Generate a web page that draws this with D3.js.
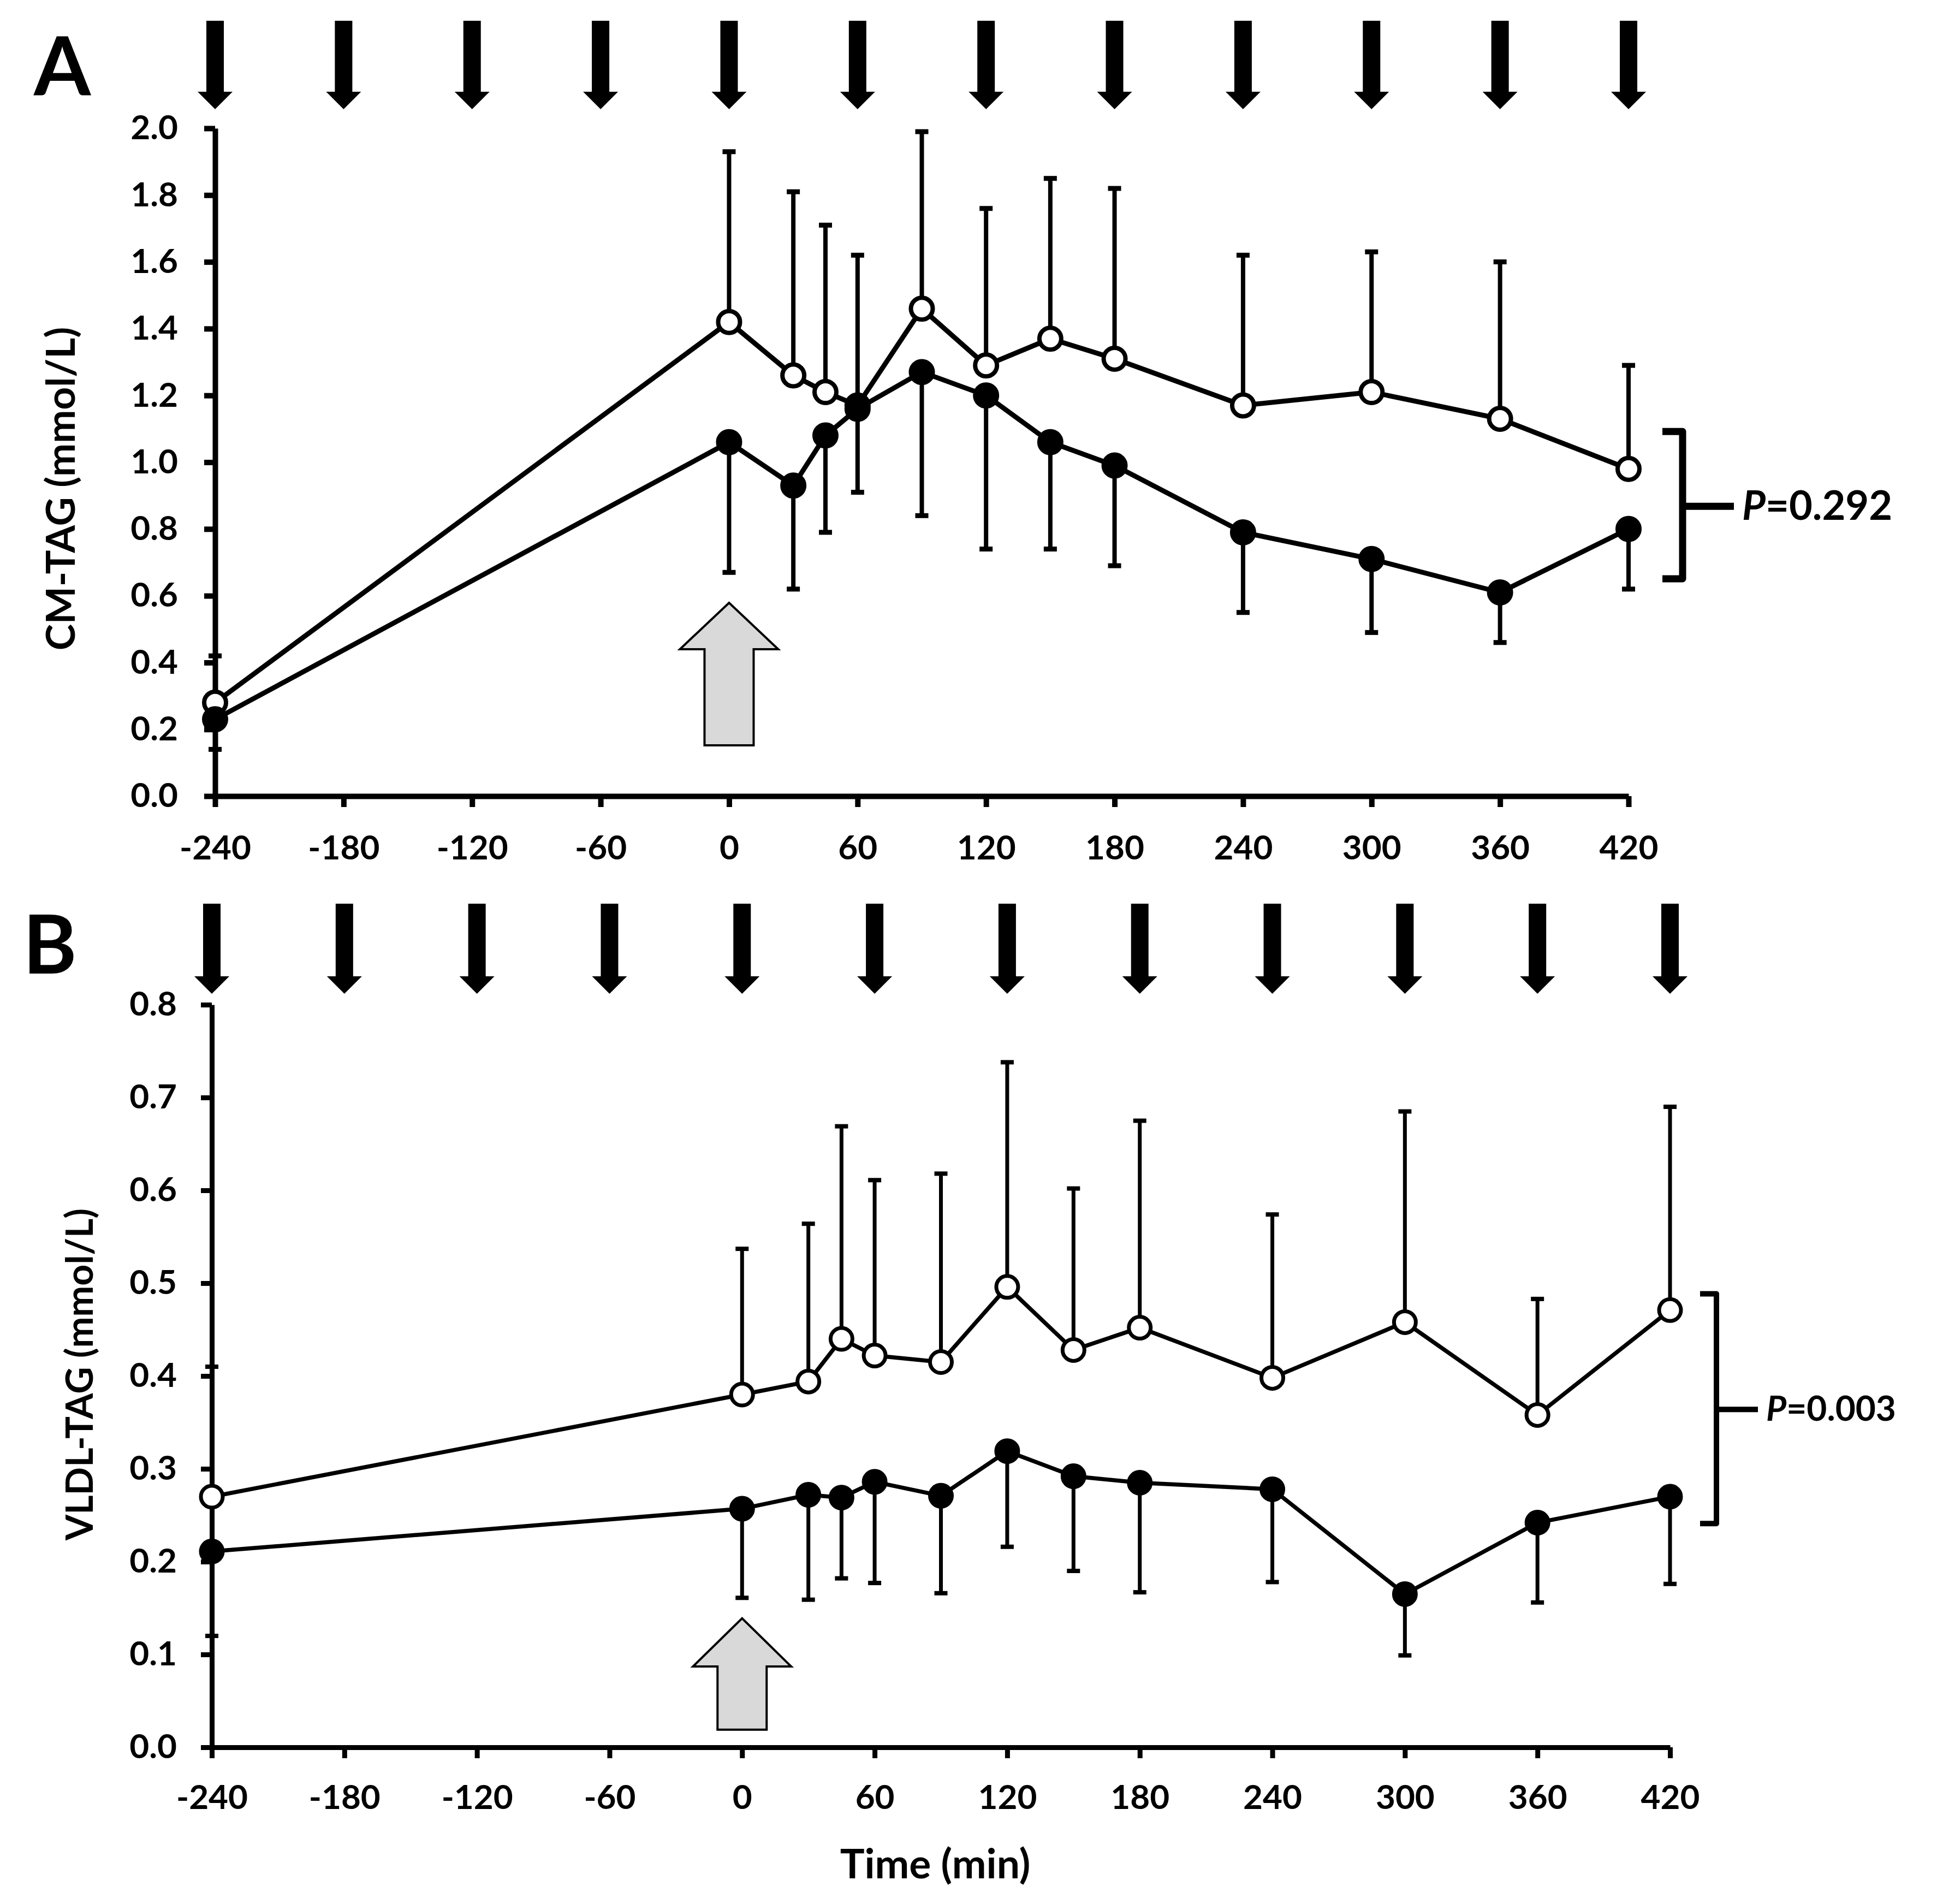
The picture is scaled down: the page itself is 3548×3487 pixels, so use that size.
<!DOCTYPE html>
<html>
<head>
<meta charset="utf-8">
<script src="https://cdn.jsdelivr.net/npm/d3@7/dist/d3.min.js"></script>
<style>
  body { margin: 0; background: #fff; }
  text { font-family: Lato, "Open Sans", sans-serif; font-weight: 700; fill: #000; }
</style>
</head>
<body>
<div id="chart"></div>
<script>
// sampling times (min) and meal times (black arrows / x ticks)
const times = [-240, 0, 30, 45, 60, 90, 120, 150, 180, 240, 300, 360, 420];
const mealTimes = [-240, -180, -120, -60, 0, 60, 120, 180, 240, 300, 360, 420];

// panel A - CM-TAG (mmol/L)
const cmOpen      = [0.28, 1.42, 1.26, 1.21, 1.17, 1.46, 1.29, 1.37, 1.31, 1.17, 1.21, 1.13, 0.98];
const cmOpenErr   = [0.14, 0.51, 0.55, 0.50, 0.45, 0.53, 0.47, 0.48, 0.51, 0.45, 0.42, 0.47, 0.31];
const cmFilled    = [0.23, 1.06, 0.93, 1.08, 1.16, 1.27, 1.20, 1.06, 0.99, 0.79, 0.71, 0.61, 0.80];
const cmFilledErr = [0.09, 0.39, 0.31, 0.29, 0.25, 0.43, 0.46, 0.32, 0.30, 0.24, 0.22, 0.15, 0.18];
const cmTicks = [0, 0.2, 0.4, 0.6, 0.8, 1.0, 1.2, 1.4, 1.6, 1.8, 2.0];

// panel B - VLDL-TAG (mmol/L)
const vldlOpen      = [0.27, 0.38, 0.394, 0.44, 0.422, 0.415, 0.496, 0.428, 0.452, 0.398, 0.458, 0.358, 0.471];
const vldlOpenErr   = [0.14, 0.157, 0.17, 0.229, 0.189, 0.203, 0.242, 0.174, 0.223, 0.176, 0.227, 0.125, 0.219];
const vldlFilled    = [0.211, 0.257, 0.272, 0.269, 0.286, 0.271, 0.319, 0.292, 0.285, 0.278, 0.165, 0.242, 0.270];
const vldlFilledErr = [0.091, 0.096, 0.113, 0.087, 0.109, 0.105, 0.103, 0.102, 0.118, 0.100, 0.066, 0.086, 0.094];
const vldlTicks = [0, 0.1, 0.2, 0.3, 0.4, 0.5, 0.6, 0.7, 0.8];

const svg = d3.select('#chart')
  .append('svg')
  .attr('width', 3548)
  .attr('height', 3487)
  .style('background-color', 'white');

function drawPanel(p) {
  const x = d3.scaleLinear().domain([-240, 420]).range([p.left, p.right]);
  const y = d3.scaleLinear().domain([0, p.yMax]).range([p.bottom, p.top]);
  const g = svg.append('g');

  // panel letter
  g.append('text').attr('x', p.letterX).attr('y', p.letterY)
    .style('font-size', '150px').text(p.letter);

  // black meal arrows
  g.selectAll('.meal').data(mealTimes).enter().append('path')
    .attr('fill', '#000')
    .attr('d', t => {
      const c = x(t);
      return `M${c-16},${p.arrTop}H${c+16}V${p.arrBase}H${c+32}L${c},${p.arrTip}L${c-32},${p.arrBase}H${c-16}Z`;
    });

  // axes
  const yAxis = d3.axisLeft(y).tickValues(p.yTicks).tickFormat(d3.format('.1f'))
    .tickSizeInner(20).tickSizeOuter(0).tickPadding(p.yPad);
  const xAxis = d3.axisBottom(x).tickValues(mealTimes).tickFormat(d => String(d))
    .tickSizeInner(20).tickSizeOuter(0).tickPadding(p.xPad);

  [g.append('g').attr('transform', `translate(${p.left},0)`).call(yAxis),
   g.append('g').attr('transform', `translate(0,${p.bottom})`).call(xAxis)]
    .forEach(a => {
      a.selectAll('path, line').attr('stroke', '#000').attr('stroke-width', p.axisW);
      a.selectAll('text').style('font-size', '62px');
      a.attr('font-size', null).attr('font-family', null);
    });

  // y title
  g.append('text')
    .attr('transform', `translate(${p.titleX},${p.titleY}) rotate(-90)`)
    .attr('text-anchor', 'middle').style('font-size', p.titleSize + 'px')
    .text(p.title);

  // grey meal arrow at time 0
  const c0 = x(0), gb = y(p.grey[2]), gm = y(p.grey[1]), gt = y(p.grey[0]);
  g.append('path')
    .attr('d', `M${c0-45},${gb}H${c0+45}V${gm}H${c0+90}L${c0},${gt}L${c0-90},${gm}H${c0-45}Z`)
    .attr('fill', '#d9d9d9').attr('stroke', '#000').attr('stroke-width', 4);

  const series = [
    { vals: p.open, errs: p.openErr, dir: 1, fill: '#fff' },
    { vals: p.filled, errs: p.filledErr, dir: -1, fill: '#000' }
  ];

  // error bars
  series.forEach(s => {
    const eb = g.append('g').attr('stroke', '#000');
    times.forEach((t, i) => {
      const yEnd = y(s.vals[i] + s.dir * s.errs[i]);
      eb.append('line').attr('x1', x(t)).attr('x2', x(t))
        .attr('y1', y(s.vals[i])).attr('y2', yEnd).attr('stroke-width', p.errW);
      eb.append('line').attr('x1', x(t) - 12).attr('x2', x(t) + 12)
        .attr('y1', yEnd).attr('y2', yEnd).attr('stroke-width', p.errW + 1);
    });
  });

  // lines
  const line = d3.line().x((d, i) => x(times[i])).y(d => y(d));
  series.forEach(s => {
    g.append('path').datum(s.vals).attr('d', line)
      .attr('fill', 'none').attr('stroke', '#000').attr('stroke-width', p.lineW)
      .attr('stroke-linejoin', 'round');
  });

  // markers
  series.forEach(s => {
    g.selectAll(null).data(s.vals).enter().append('circle')
      .attr('cx', (d, i) => x(times[i])).attr('cy', d => y(d))
      .attr('r', p.r).attr('fill', s.fill).attr('stroke', '#000').attr('stroke-width', p.mW);
  });

  // bracket + P value
  const bx = x(420) + p.brOff, bt = y(p.bracket[0]), bb = y(p.bracket[1]), bm = y(p.bracket[2]);
  g.append('path')
    .attr('d', `M${bx-p.hook},${bt}H${bx}V${bb}H${bx-p.hook}M${bx},${bm}H${bx+p.stem}`)
    .attr('fill', 'none').attr('stroke', '#000').attr('stroke-width', p.brW)
    .attr('stroke-linejoin', 'round');
  const pt = g.append('text').attr('x', bx + p.stem + 15).attr('y', bm + p.pSize * 0.33)
    .style('font-size', p.pSize + 'px');
  pt.append('tspan').style('font-style', 'italic').text('P');
  pt.append('tspan').text(p.pText);
}

drawPanel({
  letter: 'A', letterX: 62, letterY: 175,
  left: 394, right: 2983, top: 235, bottom: 1458, yMax: 2.0, yTicks: cmTicks,
  arrTop: 38, arrBase: 168, arrTip: 200,
  axisW: 10, lineW: 9, errW: 8, r: 20, mW: 8, yPad: 48, xPad: 52,
  title: 'CM-TAG (mmol/L)', titleX: 137, titleY: 895, titleSize: 73,
  grey: [0.579, 0.44, 0.152],
  open: cmOpen, openErr: cmOpenErr, filled: cmFilled, filledErr: cmFilledErr,
  bracket: [1.092, 0.651, 0.868], brOff: 99, hook: 37, stem: 94, brW: 13,
  pSize: 74, pText: '=0.292'
});

drawPanel({
  letter: 'B', letterX: 42, letterY: 1783,
  left: 388, right: 3059, top: 1840, bottom: 3200, yMax: 0.8, yTicks: vldlTicks,
  arrTop: 1655, arrBase: 1788, arrTip: 1820,
  axisW: 9, lineW: 7.5, errW: 7, r: 20, mW: 7, yPad: 44, xPad: 49,
  title: 'VLDL-TAG (mmol/L)', titleX: 170, titleY: 2517, titleSize: 68,
  grey: [0.139, 0.087, 0.019],
  open: vldlOpen, openErr: vldlOpenErr, filled: vldlFilled, filledErr: vldlFilledErr,
  bracket: [0.4885, 0.241, 0.364], brOff: 85, hook: 30, stem: 76, brW: 10,
  pSize: 64, pText: '=0.003'
});

// x title
svg.append('text').attr('x', 1713).attr('y', 3440).attr('text-anchor', 'middle')
  .style('font-size', '75px').text('Time (min)');
</script>
</body>
</html>
